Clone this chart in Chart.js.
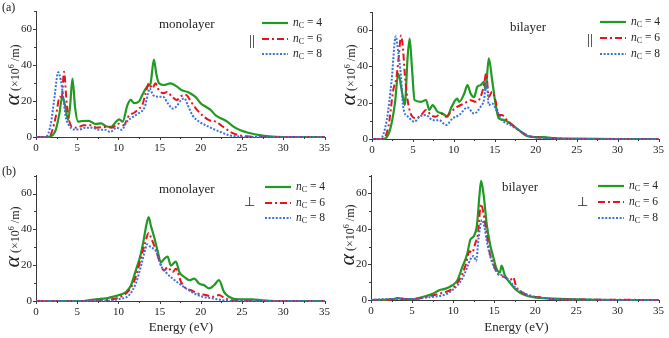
<!DOCTYPE html>
<html>
<head>
<meta charset="utf-8">
<script src="https://cdn.jsdelivr.net/npm/chart.js@4.4.0/dist/chart.umd.min.js"></script>
<style>
  html, body { margin: 0; padding: 0; background: #fff; }
  #wrap { position: relative; width: 669px; height: 338px; overflow: hidden; font-family: "Liberation Serif", "Times New Roman", serif; color: #222; }
  canvas { position: absolute; }
  .t { position: absolute; white-space: nowrap; line-height: 1; }
  .lg { position: absolute; height: 16px; display: flex; align-items: center; white-space: nowrap; font-size: 11.5px; }
  .lg svg { margin-right: 5px; }
  .lg sub { font-size: 8px; vertical-align: -2px; }
  .ytitle { position: absolute; white-space: nowrap; font-size: 12px; transform: translate(-50%, -50%) rotate(-90deg); line-height: 1; }
  .ytitle i { font-size: 22px; }
  .ytitle sup { font-size: 8px; vertical-align: 5px; }
</style>
</head>
<body>
<div id="wrap">
  <canvas id="cA" width="335" height="160" style="left:0;top:0"></canvas>
  <canvas id="cB" width="334" height="162" style="left:335px;top:0"></canvas>
  <canvas id="cC" width="335" height="160" style="left:0;top:165px"></canvas>
  <canvas id="cD" width="334" height="160" style="left:335px;top:165px"></canvas>
</div>
<script>
// ---------- data ----------
const seriesNames = ['4', '6', '8'];
const xTicks = [0, 5, 10, 15, 20, 25, 30, 35];
const yTicks = [0, 20, 40, 60];

// (a) monolayer, parallel
const mPar4E = [0,1.5,2.0,2.4,2.8,3.2,3.5,3.9,4.15,4.42,4.75,5.1,5.6,6.4,7.2,7.9,8.5,9.1,9.7,10.1,10.5,11.1,11.5,11.9,12.5,12.9,13.5,13.9,14.3,14.6,14.9,15.5,16.3,17.1,17.7,18.4,18.8,19.4,20.0,20.6,21.2,21.8,22.6,23.2,24.0,24.8,25.9,27.1,28.3,30,35];
const mPar4A = [0,0,1,4,12,22.5,18,9.5,18,32.5,16,8.5,8.9,9,7.2,7.6,6,5.6,8.5,9.8,8.5,17.8,20.6,18.8,19.7,23.4,28,29.8,43,35,30,28.9,29.8,28,26,25,24,22,18.6,16.8,15,12,10,8.5,5.6,3.7,2.2,1,0.3,0,0];
const mPar6E = [0,1.6,2.0,2.4,2.9,3.1,3.4,3.7,4.0,4.4,5.0,5.8,6.6,7.4,8.4,9.2,10.0,10.6,11.3,11.9,12.5,12.9,13.3,13.7,14.1,14.5,14.9,15.5,15.9,16.5,17.1,17.5,18.2,18.8,19.4,20.2,21.0,21.8,22.6,23.6,24.6,25.9,27,35];
const mPar6A = [0,0,4,11.3,22.4,21,36.3,20,9.5,5.6,5.2,6.5,6.5,5.2,5.6,5.2,7.4,6.5,12,13.5,15.8,17.8,24.3,29.8,27,29.8,26,24.3,25,22.4,20.5,22.4,23.3,19.6,15.8,12,9.4,8.5,6,2.8,1,0.3,0,0];
const mPar8E = [0,1.2,1.8,2.2,2.7,3.0,3.3,3.6,4.0,4.6,5.2,6.0,6.8,7.6,8.4,9.0,9.8,10.4,11.0,11.8,12.4,13.2,13.6,13.8,14.2,14.8,15.4,16.0,16.6,17.0,17.6,18.0,18.4,19.0,19.8,20.6,21.4,22.4,23.4,24.6,26,35];
const mPar8A = [0,0,7.4,20.5,36,31.7,22.4,11.3,6.5,4.1,4.1,5.2,5.2,4,4,2.8,5.2,4,8.4,11.3,13,16.8,24.3,27,23.3,22.4,22.4,18.7,15.8,16.8,20.5,21.5,17.8,12,8.5,6.5,4.7,2.8,1,0.3,0,0];

// (a) bilayer, parallel
const bPar4E = [0,1.4,2.2,2.8,3.2,3.7,4.0,4.35,4.6,4.9,5.2,6.0,6.6,7.0,7.4,8.0,8.6,9.2,9.65,10.05,10.4,10.65,11.26,11.66,12.06,12.46,12.87,13.27,13.67,13.87,14.27,14.68,15.08,15.48,16.08,16.9,17.9,19,20,21,22,25,30,35];
const bPar4A = [0,0,5,19.6,36.1,25,18.7,45,55.4,38,21.5,20.5,21.5,16,18.7,15,14.1,12.3,16.9,20.5,22.3,20.5,24.9,29.7,24.9,23,28.8,29.7,31.5,27,44.4,32.4,19.6,11.4,10.5,8.6,5,1.5,1,1,0.5,0.2,0,0];
const bPar6E = [0,1.2,2.0,2.6,3.0,3.3,3.55,3.8,4.0,4.35,4.8,5.4,6.0,6.6,7.2,7.8,8.4,9.05,9.65,10.45,11.26,12.06,12.67,13.27,13.67,13.95,14.27,14.68,15.08,15.48,15.9,16.3,16.9,17.9,19,20,22,25,35];
const bPar6A = [0,0,6.8,27,34.3,47,57,49,36,21.5,13.2,11.4,13.2,16,13.2,12.3,14,12.3,15,17.8,19.6,21.4,20.5,23.2,29.7,36,23.2,26,21.4,13.2,13.2,11.4,8.6,5,2,1,0.5,0,0];
const bPar8E = [0,1.0,1.8,2.4,2.9,3.2,3.55,3.8,4.4,5.2,5.8,6.6,7.4,8.2,9.05,9.85,10.65,11.66,12.46,13.27,13.67,14.0,14.27,14.68,15.2,15.9,16.9,17.9,19,20,22,24,35];
const bPar8A = [0,0,10.4,32.5,56.7,48,34,17.8,12.3,9.5,12.3,13.2,10.4,10.4,7.7,11.4,13.2,17.4,14,17.8,21.4,31.5,18.7,19.6,16,10.4,7.7,5,2,1,0.3,0,0];

// (b) monolayer, perpendicular
const mPerp4E = [0,5.5,6.5,7.5,8.5,9.0,10.1,10.9,11.5,12.1,12.7,13.1,13.4,13.67,13.95,14.35,14.75,15.15,15.55,15.96,16.36,16.97,17.4,18.0,18.6,19.2,19.8,20.4,21.0,21.6,22.2,22.8,23.4,24.6,26.2,27.5,29,35];
const mPerp4A = [0,0,0.5,1,1.5,2,3.3,5,8.5,17,26,35,42.7,46.8,41.8,35.4,28,21.6,23.5,24.8,19.8,22,16.1,13.4,11.6,12.5,9.7,8.8,7,8.8,11.6,5.1,2.4,0.9,0.9,0.3,0,0];
const mPerp6E = [0,7,9,10.1,11.3,12.1,12.7,13.2,13.67,13.95,14.5,14.95,15.55,15.96,16.56,16.97,17.6,18.2,18.8,19.6,20.6,21.4,22.2,22.8,23.6,25,35];
const mPerp6A = [0,0,0.8,2,6,13.4,23.5,31.7,38,35.4,29,22.6,17,18.9,16.1,18,10.6,7,6,4.2,3.3,2.4,3.3,1.9,0.5,0,0];
const mPerp8E = [0,8,10,11.3,12.1,12.7,13.1,13.5,13.95,14.55,15.15,15.75,16.56,17.4,18.2,19.2,20.2,21.4,22.6,24,35];
const mPerp8A = [0,0,1,3.3,9.7,18.9,26,31.7,29.9,28,19.8,16.1,12.5,9.7,7,4.2,2.4,1.5,0.5,0,0];

// (b) bilayer, perpendicular
const bPerp4E = [0,2.5,3.3,4.0,5.0,6.5,7.5,8.3,9.1,9.9,10.5,11.1,11.7,12.1,12.5,12.9,13.2,13.4,13.7,14.1,14.5,14.9,15.3,15.7,15.9,16.3,17.0,17.7,18.7,19.9,21.5,25,30,35];
const bPerp4A = [0,0.3,1,0.5,0.5,2,3.5,5.5,6.4,8.3,11,18.3,25.7,34,35.8,42.2,58.7,67,59.6,42.2,31.2,23.9,17.4,15.6,19.3,13.8,9.2,5.5,2.8,1.5,0.9,0.3,0,0];
const bPerp6E = [0,2.5,3.3,4.5,6,7,8.3,9.9,10.7,11.5,12.0,12.3,12.7,13.0,13.4,13.7,14.1,14.5,14.9,15.3,15.7,16.3,16.9,17.3,17.7,18.3,19.5,20.7,22,24,35];
const bPerp6A = [0,0.3,1,0.5,1,2,3.5,6.4,11,19.3,27.5,26.6,32,36.7,54,48.6,36.7,25.7,20.2,15.6,13.8,12.8,11,12.8,7.3,4.6,2.2,1.5,0.5,0.3,0];
const bPerp8E = [0,2,3,5,7,8,9,9.9,11.1,11.7,12.1,12.5,12.8,13.1,13.5,13.8,14.1,14.5,14.9,15.5,16.1,17.0,17.7,18.7,19.9,21.5,23,35];
const bPerp8A = [0,0.5,0.5,0.5,1.5,2,3,5.5,11.9,18.3,22.9,24.8,22,34.8,45,41.3,33,24.8,19.3,14.7,13.8,10,6.4,3.7,1.8,0.9,0.3,0];

// ---------- styles ----------
const AXIS = '#3a3a3a';
const FONT = '"Liberation Serif", "Times New Roman", serif';
const STYLES = [
  { color: '#1f9a22', dash: [], width: 2.2 },
  { color: '#e8141c', dash: [7, 3, 2, 3], width: 2 },
  { color: '#3a72dc', dash: [2, 1.6], width: 2 }
];

const tickMarks = {
  id: 'tickMarks',
  afterDraw(chart) {
    const { ctx, chartArea, scales: { x, y } } = chart;
    ctx.save();
    ctx.strokeStyle = AXIS;
    ctx.lineWidth = 1;
    ctx.beginPath();
    for (let i = 0; i < xTicks.length; i++) {
      const v = xTicks[i];
      let px = Math.round(x.getPixelForValue(v)) + 0.5;
      ctx.moveTo(px, chartArea.bottom); ctx.lineTo(px, chartArea.bottom + 3);
      if (i < xTicks.length - 1) {
        px = Math.round(x.getPixelForValue((v + xTicks[i + 1]) / 2)) + 0.5;
        ctx.moveTo(px, chartArea.bottom); ctx.lineTo(px, chartArea.bottom + 2);
      }
    }
    for (let i = 0; i < yTicks.length; i++) {
      const v = yTicks[i];
      let py = Math.round(y.getPixelForValue(v)) + 0.5;
      ctx.moveTo(chartArea.left, py); ctx.lineTo(chartArea.left - 3, py);
      py = Math.round(y.getPixelForValue(v + 10)) + 0.5;
      ctx.moveTo(chartArea.left, py); ctx.lineTo(chartArea.left - 2, py);
    }
    ctx.stroke();
    ctx.restore();
  }
};

function makeChart(id, sets, yWidth, xHeight, pad) {
  const datasets = sets.map((s, i) => ({
    label: 'nC = ' + seriesNames[i],
    data: s[0].map((e, k) => ({ x: e, y: s[1][k] })),
    borderColor: STYLES[i].color,
    borderDash: STYLES[i].dash,
    borderWidth: STYLES[i].width,
    pointRadius: 0,
    fill: false,
    cubicInterpolationMode: 'monotone',
    clip: 3,
    order: 3 - i
  }));
  return new Chart(document.getElementById(id), {
    type: 'line',
    data: { datasets },
    plugins: [tickMarks],
    options: {
      responsive: false,
      animation: false,
      devicePixelRatio: 1,
      layout: { padding: pad },
      plugins: { legend: { display: false }, tooltip: { enabled: false } },
      scales: {
        x: {
          type: 'linear', min: 0, max: 35,
          afterBuildTicks: s => { s.ticks = xTicks.map(v => ({ value: v })); },
          afterFit: s => { s.height = xHeight; },
          grid: { display: false, drawTicks: false },
          border: { display: true, color: AXIS, width: 1 },
          ticks: { padding: 5, color: '#222', font: { family: FONT, size: 11 }, maxRotation: 0 }
        },
        y: {
          type: 'linear', min: 0, max: 70,
          afterBuildTicks: s => { s.ticks = yTicks.map(v => ({ value: v })); },
          afterFit: s => { s.width = yWidth; },
          grid: { display: false, drawTicks: false },
          border: { display: true, color: AXIS, width: 1 },
          ticks: { padding: 4, color: '#222', font: { family: FONT, size: 11 } }
        }
      }
    }
  });
}

makeChart('cA', [[mPar4E, mPar4A], [mPar6E, mPar6A], [mPar8E, mPar8A]], 36, 23, { top: 11, right: 9, left: 0, bottom: 0 });
makeChart('cB', [[bPar4E, bPar4A], [bPar6E, bPar6A], [bPar8E, bPar8A]], 37, 23, { top: 12, right: 7, left: 0, bottom: 0 });
makeChart('cC', [[mPerp4E, mPerp4A], [mPerp6E, mPerp6A], [mPerp8E, mPerp8A]], 36, 24, { top: 9, right: 9, left: 0, bottom: 0 });
makeChart('cD', [[bPerp4E, bPerp4A], [bPerp6E, bPerp6A], [bPerp8E, bPerp8A]], 36, 25, { top: 8, right: 7, left: 0, bottom: 0 });

// ---------- annotations ----------
const wrap = document.getElementById('wrap');
function addText(html, left, top, size, extra) {
  const d = document.createElement('div');
  d.className = 't';
  d.style.left = left + 'px'; d.style.top = top + 'px'; d.style.fontSize = size + 'px';
  if (extra) Object.assign(d.style, extra);
  d.innerHTML = html;
  wrap.appendChild(d);
}
function addLegend(lineLeft, rows) {
  rows.forEach((cy, i) => {
    const d = document.createElement('div');
    d.className = 'lg';
    d.style.left = lineLeft + 'px'; d.style.top = (cy - 8) + 'px';
    const st = STYLES[i];
    d.innerHTML = '<svg width="26" height="6"><line x1="0" y1="3" x2="26" y2="3" stroke="' + st.color +
      '" stroke-width="' + st.width + '" stroke-dasharray="' + (st.dash.length ? st.dash.join(' ') : 'none') +
      '"/></svg><span><i>n</i><sub>C</sub> = ' + seriesNames[i] + '</span>';
    wrap.appendChild(d);
  });
}
function addYTitle(cx, cy) {
  const d = document.createElement('div');
  d.className = 'ytitle';
  d.style.left = cx + 'px'; d.style.top = cy + 'px';
  d.innerHTML = '<i>α</i> (×10<sup>6</sup> /m)';
  wrap.appendChild(d);
}

addText('(a)', 2, 1, 12);
addText('(b)', 2, 165, 12);
addText('monolayer', 159, 17, 13);
addText('bilayer', 510, 20, 13);
addText('monolayer', 159, 182, 13);
addText('bilayer', 502, 180, 13);
addText('||', 249, 33, 15);
addText('||', 587, 32, 15);
addText('⊥', 244, 195, 13);
addText('⊥', 577, 195, 13);
addText('Energy (eV)', 36, 320, 13, { width: '290px', textAlign: 'center' });
addText('Energy (eV)', 371, 320, 13, { width: '291px', textAlign: 'center' });
addLegend(262, [23, 39, 54]);
addLegend(600, [22, 38, 54]);
addLegend(265, [187, 203, 218]);
addLegend(598, [186, 202, 218]);
addYTitle(12, 75);
addYTitle(348, 75);
addYTitle(12, 237);
addYTitle(347, 235);
</script>
</body>
</html>
